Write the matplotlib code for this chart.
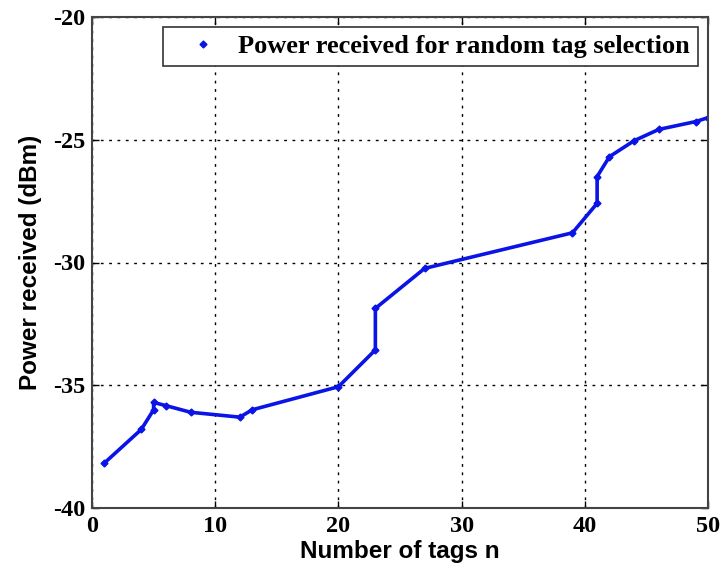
import matplotlib
matplotlib.use("Agg")
import matplotlib.pyplot as plt
from matplotlib.lines import Line2D

plt.rcParams["axes.unicode_minus"] = False

n_tags = [1, 4, 5, 5, 6, 8, 12, 13, 20, 23, 23, 27, 39, 41, 41, 42, 44, 46, 49, 50]
power_dbm = [-38.17, -36.8, -36.0, -35.7, -35.83, -36.1, -36.3, -36.0, -35.06, -33.56,
             -31.87, -30.24, -28.79, -27.59, -26.5, -25.69, -25.04, -24.58, -24.26, -24.1]
xticks = [0, 10, 20, 30, 40, 50]
yticks = [-40, -35, -30, -25, -20]
legend_label = "Power received for random tag selection"

fig = plt.figure(figsize=(7.23, 5.73), dpi=100)
ax = fig.add_axes([92/723, 1-508/573, (708-92)/723, (508-17)/573])

ax.plot(n_tags, power_dbm, color="#0a14e6", linewidth=2.6, marker="D", markersize=3.5)

ax.set_xlim(0, 50)
ax.set_ylim(-40, -20)
ax.set_xticks(xticks)
ax.set_yticks(yticks)
ax.grid(True, color="black", linestyle=(0, (2, 4)), linewidth=1.0)
ax.tick_params(direction="in", length=5, top=True, right=True, width=1)
ax.tick_params(axis="x", pad=6)
ax.tick_params(axis="y", pad=5)
for lab in ax.get_xticklabels() + ax.get_yticklabels():
    lab.set_fontfamily("Liberation Serif")
    lab.set_fontweight("bold")
    lab.set_fontsize(17.5)
for s in ax.spines.values():
    s.set_color("#444444")
    s.set_linewidth(1.5)

ax.set_xlabel("Number of tags n", family="Liberation Sans", fontweight="bold", fontsize=17.5, labelpad=2)
ax.set_ylabel("Power received (dBm)", family="Liberation Sans", fontweight="bold", fontsize=17.5, labelpad=8)

handle = Line2D([], [], color="#0a14e6", linestyle="none", marker="D", markersize=3.5)
leg = ax.legend([handle], [legend_label], loc="upper right", fancybox=False, framealpha=1,
                edgecolor="#333333", prop={"family": "Liberation Serif", "weight": "bold", "size": 19},
                borderpad=0.3, handlelength=2.4, handletextpad=0.15, borderaxespad=0,
                bbox_to_anchor=(0.9838, 0.9796))
leg.get_frame().set_linewidth(1.2)

fig.savefig("out.png", dpi=100)
